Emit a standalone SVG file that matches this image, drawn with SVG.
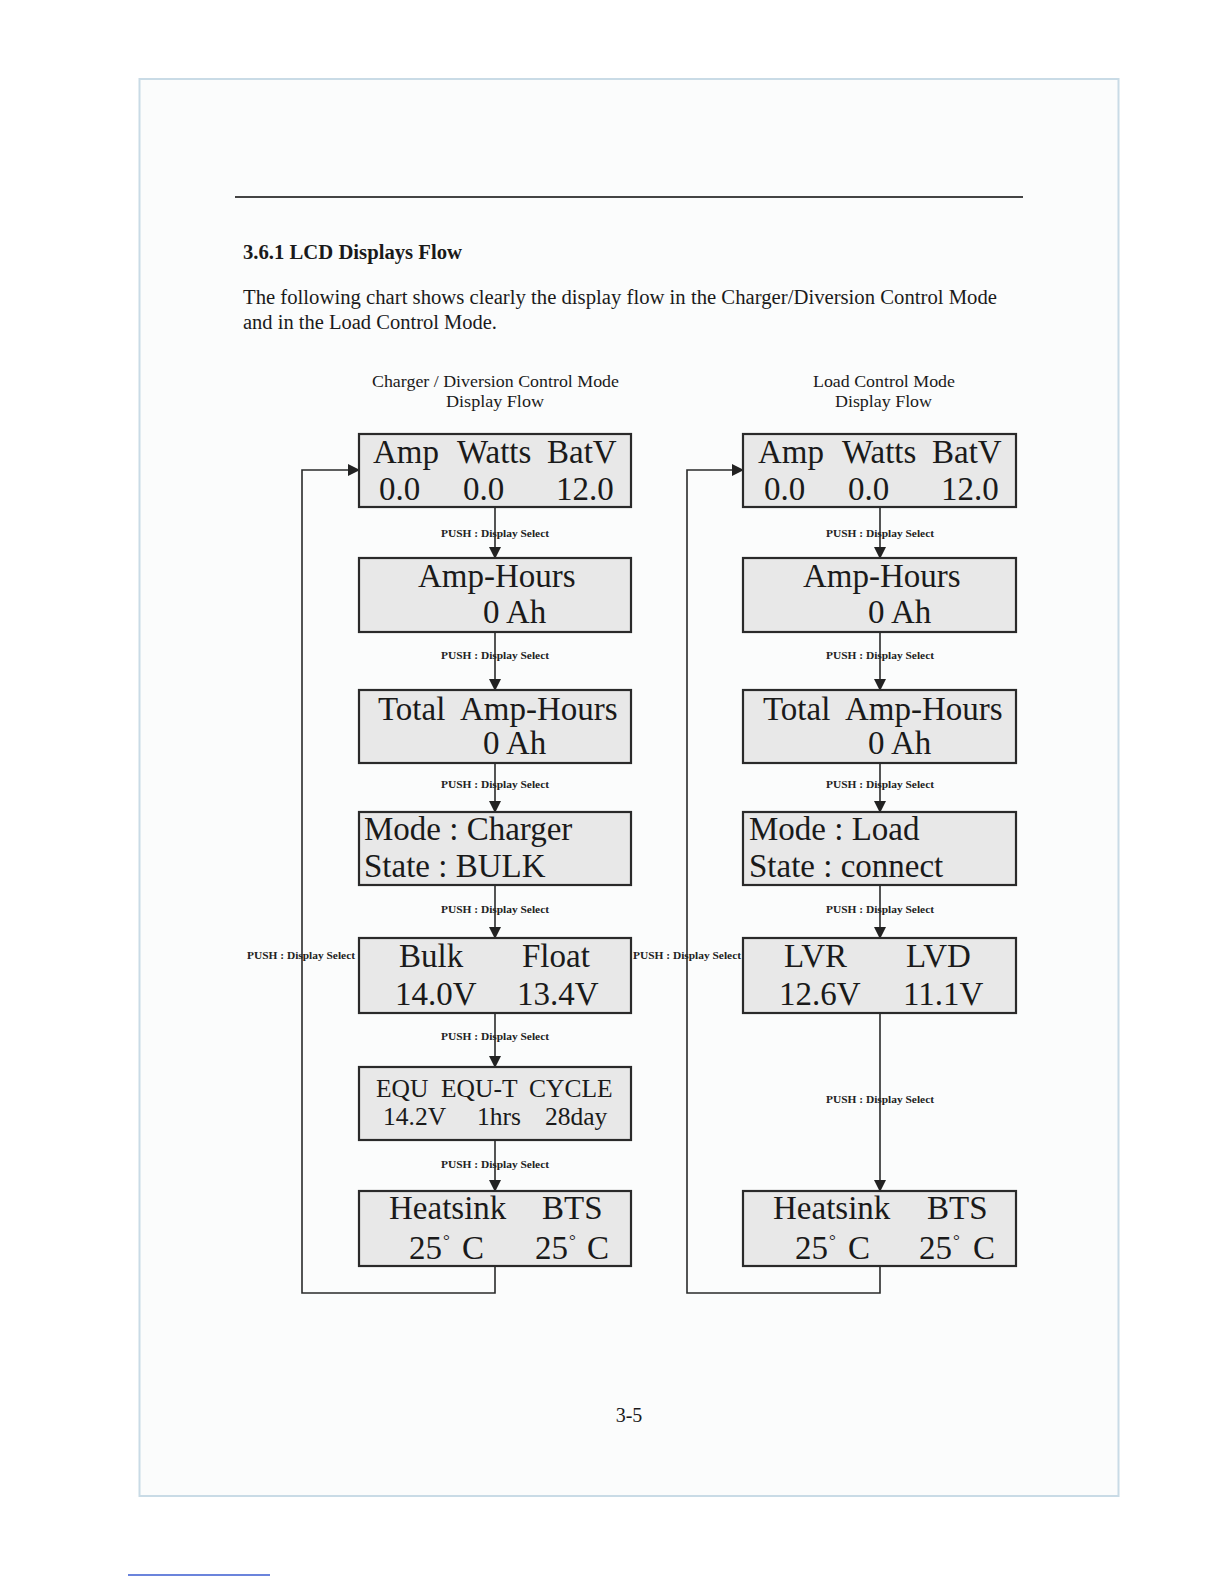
<svg xmlns="http://www.w3.org/2000/svg" width="1224" height="1584" viewBox="0 0 1224 1584">
<defs>
<marker id="ah" markerWidth="12" markerHeight="12" refX="11" refY="6" orient="auto" markerUnits="userSpaceOnUse">
<path d="M0,0 L12,6 L0,12 Z" fill="#222"/>
</marker>
<style>
.box{fill:#e8e8e8;stroke:#2a2a2a;stroke-width:2.2}
.big{font-family:"Liberation Serif","Times New Roman",serif;font-size:33px;fill:#1a1a1a}
.mid{font-family:"Liberation Serif","Times New Roman",serif;font-size:25.5px;fill:#1a1a1a}
.lbl{font-family:"Liberation Serif","Times New Roman",serif;font-size:11px;font-weight:bold;fill:#222}
.deg{font-family:"Liberation Serif","Times New Roman",serif;font-size:17px;fill:#1a1a1a}
.ttl{font-family:"Liberation Serif","Times New Roman",serif;font-size:17px;fill:#1a1a1a}
.txt{font-family:"Liberation Serif","Times New Roman",serif;font-size:20px;fill:#1a1a1a}
.conn{fill:none;stroke:#2a2a2a;stroke-width:1.6}
</style>
</defs>
<rect x="0" y="0" width="1224" height="1584" fill="#ffffff"/>
<rect x="139.5" y="79" width="979" height="1417" fill="#fbfcfc" stroke="#c9dbe6" stroke-width="2"/>
<line x1="128" y1="1575" x2="270" y2="1575" stroke="#3a5bd0" stroke-width="1.5"/>
<line x1="235" y1="197" x2="1023" y2="197" stroke="#444" stroke-width="2.2"/>
<text x="243" y="259" class="txt" font-weight="bold" textLength="219" lengthAdjust="spacingAndGlyphs">3.6.1 LCD Displays Flow</text>
<text x="243" y="304" class="txt" textLength="754" lengthAdjust="spacingAndGlyphs">The following chart shows clearly the display flow in the Charger/Diversion Control Mode</text>
<text x="243" y="329" class="txt" textLength="254" lengthAdjust="spacingAndGlyphs">and in the Load Control Mode.</text>
<text x="372" y="387" class="ttl" textLength="247" lengthAdjust="spacingAndGlyphs">Charger / Diversion Control Mode</text>
<text x="446" y="407" class="ttl" textLength="98" lengthAdjust="spacingAndGlyphs">Display Flow</text>
<text x="813" y="387" class="ttl" textLength="142" lengthAdjust="spacingAndGlyphs">Load Control Mode</text>
<text x="835" y="407" class="ttl" textLength="97" lengthAdjust="spacingAndGlyphs">Display Flow</text>

<g id="connectors">
<line class="conn" x1="495" y1="507" x2="495" y2="558" marker-end="url(#ah)"/>
<line class="conn" x1="495" y1="632" x2="495" y2="690" marker-end="url(#ah)"/>
<line class="conn" x1="495" y1="763" x2="495" y2="812" marker-end="url(#ah)"/>
<line class="conn" x1="495" y1="885" x2="495" y2="938" marker-end="url(#ah)"/>
<line class="conn" x1="495" y1="1013" x2="495" y2="1067" marker-end="url(#ah)"/>
<line class="conn" x1="495" y1="1140" x2="495" y2="1191" marker-end="url(#ah)"/>
<path class="conn" d="M495,1266 V1293 H302 V470 H359" marker-end="url(#ah)"/>
<line class="conn" x1="880" y1="507" x2="880" y2="558" marker-end="url(#ah)"/>
<line class="conn" x1="880" y1="632" x2="880" y2="690" marker-end="url(#ah)"/>
<line class="conn" x1="880" y1="763" x2="880" y2="812" marker-end="url(#ah)"/>
<line class="conn" x1="880" y1="885" x2="880" y2="938" marker-end="url(#ah)"/>
<line class="conn" x1="880" y1="1013" x2="880" y2="1191" marker-end="url(#ah)"/>
<path class="conn" d="M880,1266 V1293 H687 V470 H743" marker-end="url(#ah)"/>
<text class="lbl" x="441" y="537" textLength="108" lengthAdjust="spacingAndGlyphs">PUSH : Display Select</text>
<text class="lbl" x="441" y="659" textLength="108" lengthAdjust="spacingAndGlyphs">PUSH : Display Select</text>
<text class="lbl" x="441" y="788" textLength="108" lengthAdjust="spacingAndGlyphs">PUSH : Display Select</text>
<text class="lbl" x="441" y="913" textLength="108" lengthAdjust="spacingAndGlyphs">PUSH : Display Select</text>
<text class="lbl" x="441" y="1040" textLength="108" lengthAdjust="spacingAndGlyphs">PUSH : Display Select</text>
<text class="lbl" x="441" y="1168" textLength="108" lengthAdjust="spacingAndGlyphs">PUSH : Display Select</text>
<text class="lbl" x="247" y="959" textLength="108" lengthAdjust="spacingAndGlyphs">PUSH : Display Select</text>
<text class="lbl" x="826" y="537" textLength="108" lengthAdjust="spacingAndGlyphs">PUSH : Display Select</text>
<text class="lbl" x="826" y="659" textLength="108" lengthAdjust="spacingAndGlyphs">PUSH : Display Select</text>
<text class="lbl" x="826" y="788" textLength="108" lengthAdjust="spacingAndGlyphs">PUSH : Display Select</text>
<text class="lbl" x="826" y="913" textLength="108" lengthAdjust="spacingAndGlyphs">PUSH : Display Select</text>
<text class="lbl" x="826" y="1103" textLength="108" lengthAdjust="spacingAndGlyphs">PUSH : Display Select</text>
<text class="lbl" x="633" y="959" textLength="108" lengthAdjust="spacingAndGlyphs">PUSH : Display Select</text>
</g>

<g id="L1"><rect class="box" x="359" y="434" width="272" height="73"/>
<text class="big" x="373" y="463">Amp</text><text class="big" x="457" y="463">Watts</text><text class="big" x="547" y="463">BatV</text>
<text class="big" x="379" y="500">0.0</text><text class="big" x="463" y="500">0.0</text><text class="big" x="556" y="500">12.0</text></g>
<g id="L2"><rect class="box" x="359" y="558" width="272" height="74"/>
<text class="big" x="418" y="587">Amp-Hours</text><text class="big" x="483" y="623">0 Ah</text></g>
<g id="L3"><rect class="box" x="359" y="690" width="272" height="73"/>
<text class="big" x="378" y="720">Total</text><text class="big" x="460" y="720">Amp-Hours</text><text class="big" x="483" y="754">0 Ah</text></g>
<g id="L4"><rect class="box" x="359" y="812" width="272" height="73"/>
<text class="big" x="364" y="840">Mode : Charger</text><text class="big" x="364" y="877">State : BULK</text></g>
<g id="L5"><rect class="box" x="359" y="938" width="272" height="75"/>
<text class="big" x="399" y="967">Bulk</text><text class="big" x="522" y="967">Float</text>
<text class="big" x="395" y="1005">14.0V</text><text class="big" x="517" y="1005">13.4V</text></g>
<g id="L6"><rect class="box" x="359" y="1067" width="272" height="73"/>
<text class="mid" x="376" y="1097">EQU</text><text class="mid" x="441" y="1097">EQU-T</text><text class="mid" x="529" y="1097">CYCLE</text>
<text class="mid" x="383" y="1125">14.2V</text><text class="mid" x="477" y="1125">1hrs</text><text class="mid" x="545" y="1125">28day</text></g>
<g id="L7"><rect class="box" x="359" y="1191" width="272" height="75"/>
<text class="big" x="389" y="1219">Heatsink</text><text class="big" x="542" y="1219">BTS</text>
<text class="big" x="409" y="1259">25</text><text class="deg" x="443" y="1246">°</text><text class="big" x="462" y="1259">C</text>
<text class="big" x="535" y="1259">25</text><text class="deg" x="569" y="1246">°</text><text class="big" x="587" y="1259">C</text></g>

<g id="R1"><rect class="box" x="743" y="434" width="273" height="73"/>
<text class="big" x="758" y="463">Amp</text><text class="big" x="842" y="463">Watts</text><text class="big" x="932" y="463">BatV</text>
<text class="big" x="764" y="500">0.0</text><text class="big" x="848" y="500">0.0</text><text class="big" x="941" y="500">12.0</text></g>
<g id="R2"><rect class="box" x="743" y="558" width="273" height="74"/>
<text class="big" x="803" y="587">Amp-Hours</text><text class="big" x="868" y="623">0 Ah</text></g>
<g id="R3"><rect class="box" x="743" y="690" width="273" height="73"/>
<text class="big" x="763" y="720">Total</text><text class="big" x="845" y="720">Amp-Hours</text><text class="big" x="868" y="754">0 Ah</text></g>
<g id="R4"><rect class="box" x="743" y="812" width="273" height="73"/>
<text class="big" x="749" y="840">Mode : Load</text><text class="big" x="749" y="877">State : connect</text></g>
<g id="R5"><rect class="box" x="743" y="938" width="273" height="75"/>
<text class="big" x="784" y="967">LVR</text><text class="big" x="906" y="967">LVD</text>
<text class="big" x="779" y="1005">12.6V</text><text class="big" x="903" y="1005">11.1V</text></g>
<g id="R7"><rect class="box" x="743" y="1191" width="273" height="75"/>
<text class="big" x="773" y="1219">Heatsink</text><text class="big" x="927" y="1219">BTS</text>
<text class="big" x="795" y="1259">25</text><text class="deg" x="829" y="1246">°</text><text class="big" x="848" y="1259">C</text>
<text class="big" x="919" y="1259">25</text><text class="deg" x="953" y="1246">°</text><text class="big" x="973" y="1259">C</text></g>

<text x="629" y="1422" class="txt" font-size="18" text-anchor="middle">3-5</text>
</svg>
